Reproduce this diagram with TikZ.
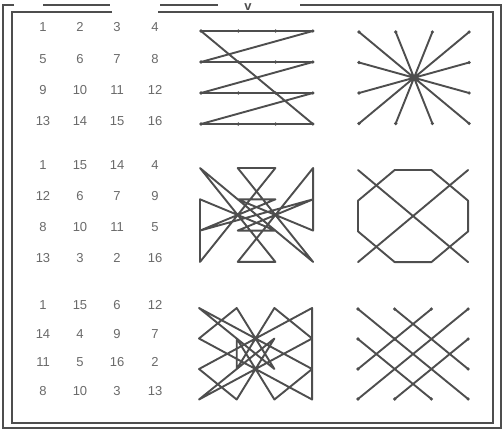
\documentclass[tikz,border=0pt]{standalone}
\usepackage{fontspec}
\setmainfont{Liberation Sans}
\definecolor{ink}{HTML}{4E4E4E}
\definecolor{numc}{HTML}{6A6A6A}
\newcommand{\mkgrid}[5]{%
  \foreach \i in {0,...,3}{\foreach \j in {0,...,3}{%
    \coordinate (#1\i\j) at ({#2+\i*#4},{#3+\j*#5});}}}
\tikzset{
  fig/.style={draw=ink, line width=1.9pt, line join=round, line cap=round},
  framel/.style={draw=ink, line width=1.6pt},
  num/.style={font=\fontsize{13}{13}\selectfont, text=numc, inner sep=0pt},
  dotp/.style={fill=ink, circle, inner sep=0pt, minimum size=3.6pt}
}
\begin{document}
\begin{tikzpicture}[x=1pt,y=-1pt]
\useasboundingbox (0,0) rectangle (502,429);
\fill[white] (0,0) rectangle (502,429);
% frame
\coordinate (o1) at (3,428); \coordinate (o2) at (3,5); \coordinate (o3) at (14,5);
\coordinate (o4) at (43,5); \coordinate (o5) at (110,5);
\coordinate (o6) at (160,5); \coordinate (o7) at (218,5);
\coordinate (o8) at (300,5); \coordinate (o9) at (501,5); \coordinate (o10) at (501,428);
\draw[framel] (o3) -- (o2) -- (o1) -- (o10) -- (o9) -- (o8);
\draw[framel] (o4) -- (o5);
\draw[framel] (o6) -- (o7);
\coordinate (i1) at (112,12); \coordinate (i2) at (12,12); \coordinate (i3) at (12,423);
\coordinate (i4) at (493,423); \coordinate (i5) at (493,12); \coordinate (i6) at (158,12);
\draw[framel] (i1) -- (i2) -- (i3) -- (i4) -- (i5) -- (i6);
\node[font=\bfseries\fontsize{13}{13}\selectfont, text=ink, inner sep=0pt] (vmark) at (248,7) {v};
% numbers
\foreach \r/\y/\a/\b/\c/\d in {0/27/1/2/3/4, 1/59/5/6/7/8, 2/90/9/10/11/12, 3/121/13/14/15/16,
  4/165/1/15/14/4, 5/196/12/6/7/9, 6/227/8/10/11/5, 7/258/13/3/2/16,
  8/305/1/15/6/12, 9/334/14/4/9/7, 10/362/11/5/16/2, 11/391/8/10/3/13}{
  \node[num] (n\r a) at (43,\y) {\a};
  \node[num] (n\r b) at (80,\y) {\b};
  \node[num] (n\r c) at (117,\y) {\c};
  \node[num] (n\r d) at (155,\y) {\d};
}
% grids
\mkgrid{A}{201}{31}{37.3}{31}
\mkgrid{B}{359}{32}{36.7}{30.5}
\mkgrid{C}{200}{168}{37.7}{31.3}
\mkgrid{D}{358}{170}{36.7}{30.7}
\mkgrid{E}{199}{308}{37.7}{30.5}
\mkgrid{F}{358}{309}{36.7}{30}
% figure A
\draw[fig] (A00)--(A10)--(A20)--(A30)--(A01)--(A11)--(A21)--(A31)--(A02)--(A12)--(A22)--(A32)--(A03)--(A13)--(A23)--(A33)--cycle;
\foreach \i in {0,...,3}{\foreach \j in {0,...,3}{\node[dotp] at (A\i\j) {};}}
% figure B
\draw[fig] (B00)--(B33) (B10)--(B23) (B20)--(B13) (B30)--(B03) (B01)--(B32) (B31)--(B02) (B11)--(B22) (B21)--(B12);
\foreach \p in {00,10,20,30,01,31,02,32,03,13,23,33}{\node[dotp] at (B\p) {};}
% figure C
\draw[fig] (C00)--(C23)--(C13)--(C30)--(C32)--(C11)--(C21)--(C02)--(C31)--(C12)--(C22)--(C01)--(C03)--(C20)--(C10)--(C33)--cycle;
% figure D
\draw[fig] (D10)--(D20)--(D31)--(D32)--(D23)--(D13)--(D02)--(D01)--cycle;
\draw[fig] (D00)--(D33) (D30)--(D03);
% figure E
\draw[fig] (E00)--(E32)--(E23)--(E11)--(E12)--(E20)--(E31)--(E03)--(E21)--(E13)--(E02)--(E30)--(E33)--(E01)--(E10)--(E22)--cycle;
% figure F
\draw[fig] (F00)--(F22) (F10)--(F32) (F20)--(F02) (F30)--(F12) (F01)--(F23) (F11)--(F33) (F21)--(F03) (F31)--(F13);
\foreach \p in {00,10,20,30,01,11,31,02,32,03,13,23,33}{\node[dotp] at (F\p) {};}
\end{tikzpicture}
\end{document}
